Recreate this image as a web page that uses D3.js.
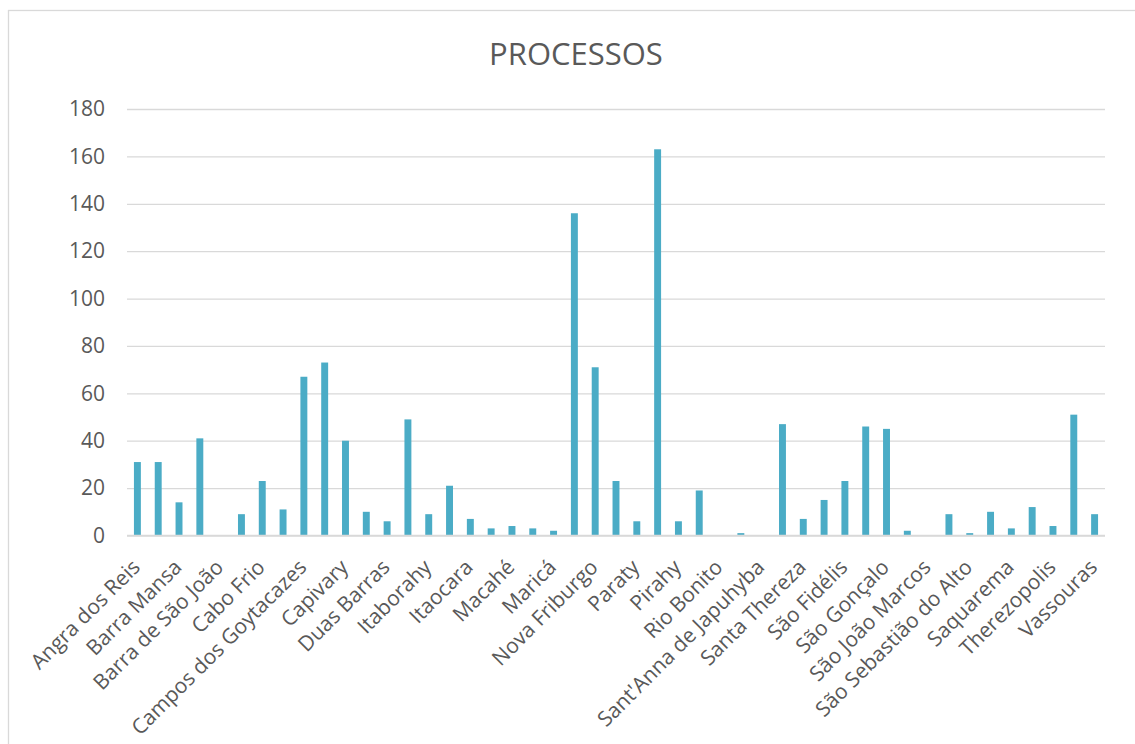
<!DOCTYPE html>
<html>
<head>
<meta charset="utf-8">
<script src="https://cdn.jsdelivr.net/npm/d3@7"></script>
<style>
  html, body { margin: 0; padding: 0; background: #fff; }
  svg { display: block; font-family: "Open Sans", "Noto Sans", sans-serif; }
</style>
</head>
<body>
<svg id="chart" width="1135" height="744"></svg>
<script>
// ---- Data ----
const title = "PROCESSOS";
const categories = [
  "Angra dos Reis", "Araruama", "Barra Mansa", "Barra do Pirahy", "Barra de São João",
  "Bom Jardim", "Cabo Frio", "Cambucy", "Campos dos Goytacazes", "Cantagallo",
  "Capivary", "Carmo", "Duas Barras", "Estrella", "Itaborahy",
  "Itaguahy", "Itaocara", "Itaperuna", "Macahé", "Magé",
  "Maricá", "Nictheroy", "Nova Friburgo", "Parahyba do Sul", "Paraty",
  "Petrópolis", "Pirahy", "Resende", "Rio Bonito", "Rio Claro",
  "Sant'Anna de Japuhyba", "Santa Maria Magdalena", "Santa Thereza", "Santo Antônio de Pádua", "São Fidélis",
  "São Francisco de Paula", "São Gonçalo", "São João da Barra", "São João Marcos", "São Pedro d'Aldeia",
  "São Sebastião do Alto", "Sapucaia", "Saquarema", "Sumidouro", "Therezopolis",
  "Valença", "Vassouras"
];
const values = [
  31, 31, 14, 41, 0,
  9, 23, 11, 67, 73,
  40, 10, 6, 49, 9,
  21, 7, 3, 4, 3,
  2, 136, 71, 23, 6,
  163, 6, 19, 0, 1,
  0, 47, 7, 15, 23,
  46, 45, 2, 0, 9,
  1, 10, 3, 12, 4,
  51, 9
];
const yTicks = [0, 20, 40, 60, 80, 100, 120, 140, 160, 180];

// ---- Layout ----
const svg = d3.select("#chart");
const plot = { left: 127, right: 1105, top: 109, bottom: 535.5 };
const textColor = "#595959";
const gridColor = "#D9D9D9";
const barColor = "#4BACC6";

// chart border
svg.append("rect")
  .attr("x", 8.5).attr("y", 10.5)
  .attr("width", 1140).attr("height", 800)
  .attr("fill", "#fff")
  .attr("stroke", gridColor).attr("stroke-width", 1.3);

const x = d3.scaleBand()
  .domain(categories)
  .range([plot.left, plot.right])
  .paddingInner(2/3).paddingOuter(1/3);

const y = d3.scaleLinear()
  .domain([0, 180])
  .range([plot.bottom, plot.top]);

// title
svg.append("text")
  .attr("x", 576)
  .attr("y", 65)
  .attr("text-anchor", "middle")
  .attr("fill", textColor)
  .attr("font-size", 31)
  .text(title);

// gridlines + y labels via axis
const yAxis = d3.axisLeft(y)
  .tickValues(yTicks)
  .tickSize(-(plot.right - plot.left))
  .tickPadding(22);

const gy = svg.append("g")
  .attr("transform", `translate(${plot.left},0)`)
  .call(yAxis);
gy.select(".domain").remove();
gy.selectAll(".tick line")
  .attr("stroke", gridColor)
  .attr("stroke-width", 1.3);
gy.selectAll(".tick text")
  .attr("fill", textColor)
  .attr("font-size", 21)
  .attr("font-family", "Open Sans, Noto Sans, sans-serif");

// bars
svg.append("g")
  .selectAll("rect")
  .data(categories.map((c, i) => ({ c, v: values[i] })))
  .join("rect")
  .attr("x", d => x(d.c))
  .attr("width", x.bandwidth())
  .attr("y", d => y(d.v))
  .attr("height", d => y(0) - y(d.v))
  .attr("fill", barColor);

// baseline
svg.append("line")
  .attr("x1", plot.left).attr("x2", plot.right)
  .attr("y1", y(0)).attr("y2", y(0))
  .attr("stroke", gridColor).attr("stroke-width", 1.5);

// x labels (every other)
const xAxis = d3.axisBottom(x)
  .tickValues(categories.filter((c, i) => i % 2 === 0))
  .tickSize(0);
const gx = svg.append("g")
  .attr("transform", `translate(0,${y(0)})`)
  .call(xAxis);
gx.select(".domain").remove();
gx.selectAll(".tick text")
  .attr("fill", textColor)
  .attr("font-size", 21)
  .attr("font-family", "Open Sans, Noto Sans, sans-serif")
  .attr("text-anchor", "end")
  .attr("dy", null)
  .attr("y", null)
  .attr("transform", "translate(4,33) rotate(-45)");
</script>
</body>
</html>
